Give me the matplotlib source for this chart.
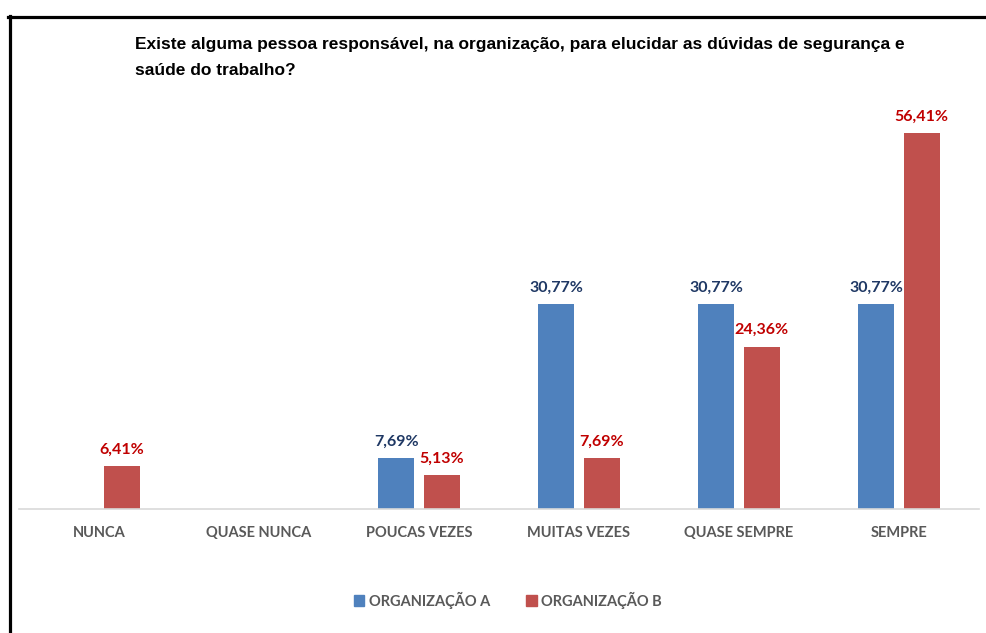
import matplotlib
matplotlib.use("Agg")
import matplotlib.pyplot as plt
import matplotlib.patches as mpatches
from matplotlib.lines import Line2D
import numpy as np

categories = ["NUNCA", "QUASE NUNCA", "POUCAS VEZES", "MUITAS VEZES", "QUASE SEMPRE", "SEMPRE"]
org_a = [0, 0, 7.69, 30.77, 30.77, 30.77]
org_b = [6.41, 0, 5.13, 7.69, 24.36, 56.41]
series_names = ["ORGANIZAÇÃO A", "ORGANIZAÇÃO B"]
title = ("Existe alguma pessoa responsável, na organização, para elucidar as dúvidas de segurança e\n"
         "saúde do trabalho?")

BLUE, RED = "#4F81BD", "#C0504D"
BLUE_TXT, RED_TXT = "#1F3864", "#C00000"
LABEL_FONT = ["Lato", "DejaVu Sans"]

W, H = 987, 633
fig = plt.figure(figsize=(W / 100, H / 100), dpi=100)
ax = fig.add_axes([19 / W, 1 - 509 / H, 960 / W, 400 / H])

x = np.arange(len(categories))
bw = 0.225
off = 0.141
ax.bar(x - off, org_a, bw, color=BLUE, label=series_names[0])
ax.bar(x + off, org_b, bw, color=RED, label=series_names[1])

def fmt(v):
    return f"{v:.2f}%".replace(".", ",")

for xi, v in zip(x, org_a):
    if v > 0:
        ax.text(xi - off, v + 1.4, fmt(v), ha="center", va="bottom", color=BLUE_TXT,
                fontsize=11.5, fontweight="bold", family=LABEL_FONT)
for xi, v in zip(x, org_b):
    if v > 0:
        ax.text(xi + off, v + 1.4, fmt(v), ha="center", va="bottom", color=RED_TXT,
                fontsize=11.5, fontweight="bold", family=LABEL_FONT)

ax.set_xlim(-0.5, len(categories) - 0.5)
ax.set_ylim(0, 60)
ax.set_yticks([])
ax.set_xticks(x)
ax.set_xticklabels(categories, fontsize=10.5, fontweight="bold", color="#595959", family=LABEL_FONT)
ax.tick_params(axis="x", length=0, pad=12)
for s in ["top", "right", "left"]:
    ax.spines[s].set_visible(False)
ax.spines["bottom"].set_color("#D9D9D9")
ax.spines["bottom"].set_linewidth(1.2)

fig.text(135 / W, 1 - 37 / H, title, ha="left", va="top", fontsize=12.5, fontweight="bold",
         family=["Liberation Sans", "DejaVu Sans"], linespacing=1.9, color="#000000")

handles = [mpatches.Patch(color=BLUE, label=series_names[0]),
           mpatches.Patch(color=RED, label=series_names[1])]
fig.legend(handles=handles, loc="center", bbox_to_anchor=(508 / W, 1 - 600 / H), ncol=2,
           frameon=False, handlelength=0.7, handleheight=0.7, handletextpad=0.3,
           columnspacing=2.5, prop={"family": LABEL_FONT, "weight": "bold", "size": 10.5},
           labelcolor="#595959")

# outer frame (left and top edges)
fig.add_artist(Line2D([9.5 / W, 9.5 / W], [0, 1 - 16 / H], color="black", lw=2.3,
                      transform=fig.transFigure))
fig.add_artist(Line2D([8.5 / W, 1], [1 - 16.5 / H, 1 - 16.5 / H], color="black", lw=2.3,
                      transform=fig.transFigure))

fig.savefig("out.png", dpi=100)
